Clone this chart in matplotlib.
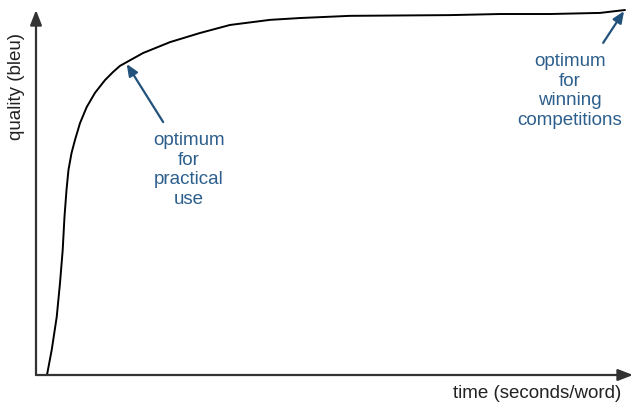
import numpy as np
import matplotlib.pyplot as plt

plt.rcParams['font.family'] = ['Liberation Sans', 'DejaVu Sans']

# curve (time and quality in arbitrary units, 0..100)
time = [1.84, 2.63, 3.47, 4.02, 4.47, 4.77, 5.11, 5.44, 5.95, 6.53, 7.37, 8.49, 9.88,
        11.56, 12.90, 14.07, 17.92, 22.45, 27.47, 32.50, 39.20, 44.22, 52.60,
        60.97, 69.35, 77.72, 86.10, 94.47, 98.66]
quality = [0, 6.85, 15.9, 25.2, 34.2, 43.3, 50.7, 56.2, 60.8, 64.4, 69.0, 73.4, 77.3,
           80.8, 83.0, 84.7, 88.2, 91.2, 93.7, 95.9, 97.3, 97.8, 98.4,
           98.5, 98.6, 98.9, 98.9, 99.2, 100]

practical_tip = (15.2, 85.2)
practical_tail = (21.3, 69.3)
practical_text = (25.6, 56.2)
winning_tip = (98.5, 99.7)
winning_tail = (95.0, 91.0)
winning_text = (89.4, 77.8)

text_blue = '#2d5f8c'
arrow_blue = '#22527c'

fig = plt.figure(figsize=(6.33, 4.04), dpi=100)
ax = fig.add_axes([36 / 633, 29 / 404, 597 / 633, 365 / 404])
ax.set_xlim(0, 100)
ax.set_ylim(0, 100)
ax.axis('off')

# axes drawn as arrows
axis_arrow = dict(arrowstyle='-|>,head_length=0.9,head_width=0.35', color='#333333', lw=1.6,
                  shrinkA=0, shrinkB=0)
ax.annotate('', xy=(100, 0), xytext=(0, 0), arrowprops=axis_arrow, annotation_clip=False)
ax.annotate('', xy=(0, 100), xytext=(0, 0), arrowprops=axis_arrow, annotation_clip=False)

ax.plot(time, quality, color='black', lw=1.4, clip_on=False,
        solid_capstyle='round', solid_joinstyle='round')

ann_arrow = dict(arrowstyle='-|>,head_length=0.7,head_width=0.3', color=arrow_blue, lw=1.6,
                 shrinkA=0, shrinkB=0)
ax.annotate('', xy=practical_tip, xytext=practical_tail, arrowprops=ann_arrow)
ax.annotate('', xy=winning_tip, xytext=winning_tail, arrowprops=ann_arrow, annotation_clip=False)

ax.text(*practical_text, 'optimum\nfor\npractical\nuse', color=text_blue, fontsize=13.5,
        ha='center', va='center', linespacing=1.2)
ax.text(*winning_text, 'optimum\nfor\nwinning\ncompetitions', color=text_blue, fontsize=13.5,
        ha='center', va='center', linespacing=1.2)

fig.text(17 / 633, 1 - 86 / 404, 'quality (bleu)', rotation=90, fontsize=13.5,
         ha='center', va='center', color='#222222')
fig.text(537 / 633, 1 - 393 / 404, 'time (seconds/word)', fontsize=13.5,
         ha='center', va='center', color='#222222')

fig.savefig('out.png', dpi=100)
